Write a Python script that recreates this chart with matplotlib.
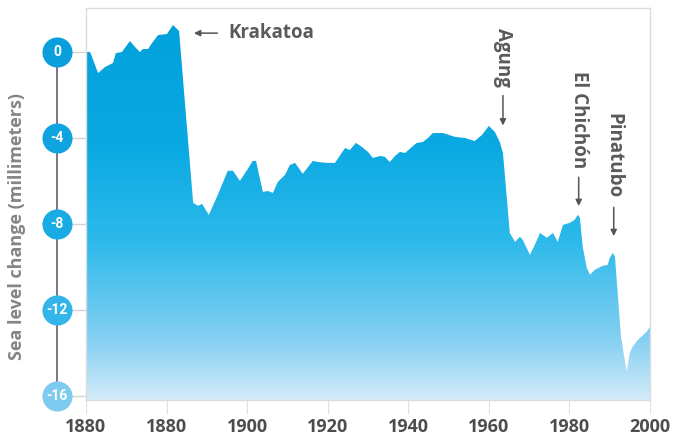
import numpy as np
import matplotlib
matplotlib.use("Agg")
import matplotlib.pyplot as plt
from matplotlib.colors import LinearSegmentedColormap
from matplotlib import transforms

plt.rcParams['font.family'] = ['Open Sans', 'DejaVu Sans']

# Данные: изменение уровня моря (мм)
years = [1860.0, 1861.0, 1861.5, 1863.0, 1864.7, 1866.7, 1867.4, 1868.9, 1870.9, 1872.4,
         1873.4, 1874.1, 1875.4, 1876.4, 1877.9, 1880.1, 1881.6, 1883.1, 1886.6, 1887.8,
         1888.8, 1890.5, 1892.5, 1895.2, 1896.5, 1898.2, 1900.0, 1901.4, 1902.2, 1903.9,
         1905.2, 1906.4, 1907.6, 1909.4, 1910.6, 1911.9, 1913.8, 1916.3, 1917.6, 1919.8,
         1921.8, 1924.3, 1925.5, 1927.0, 1928.5, 1930.0, 1931.2, 1933.0, 1934.2, 1935.4,
         1936.7, 1937.9, 1939.2, 1940.9, 1942.1, 1943.6, 1944.9, 1946.1, 1948.6, 1951.6,
         1954.0, 1956.5, 1958.3, 1960.0, 1961.5, 1962.7, 1963.5, 1965.2, 1966.5, 1967.7,
         1968.4, 1970.2, 1971.4, 1972.7, 1974.4, 1975.9, 1977.1, 1978.4, 1980.1, 1981.3,
         1982.1, 1982.6, 1983.3, 1984.3, 1985.1, 1986.3, 1988.3, 1989.5, 1990.0, 1990.8,
         1991.3, 1992.8, 1994.2, 1995.0, 1995.7, 1997.0, 1999.2, 2000.0]
sea_level = [0.0, 0.0, -0.23, -0.98, -0.70, -0.51, -0.05, 0.0, 0.51, 0.19,
             0.0, 0.14, 0.14, 0.42, 0.79, 0.84, 1.26, 0.98, -7.02, -7.16,
             -7.07, -7.58, -6.74, -5.53, -5.53, -6.00, -5.49, -5.07, -5.07, -6.51,
             -6.47, -6.56, -6.05, -5.72, -5.26, -5.16, -5.67, -5.07, -5.12, -5.16,
             -5.16, -4.47, -4.56, -4.23, -4.42, -4.65, -4.93, -4.84, -4.88, -5.12,
             -4.84, -4.65, -4.70, -4.42, -4.23, -4.19, -4.00, -3.77, -3.77, -3.95,
             -4.00, -4.14, -3.86, -3.44, -3.72, -4.19, -4.70, -8.42, -8.84, -8.60,
             -8.74, -9.44, -8.98, -8.42, -8.65, -8.42, -8.84, -8.05, -7.95, -7.81,
             -7.58, -7.72, -9.07, -10.05, -10.37, -10.14, -9.95, -9.91, -9.58, -9.35,
             -9.53, -13.26, -14.88, -14.00, -13.72, -13.40, -13.02, -12.79]

xtick_pos = [1860, 1880, 1900, 1920, 1940, 1960, 1980, 2000]
xtick_labels = ['1880', '1880', '1900', '1920', '1940', '1960', '1980', '2000']
ytick_pos = [0, -4, -8, -12, -16]
ytick_labels = ['0', '-4', '-8', '-12', '-16']
ytick_colors = ['#0a9fdb', '#0fa4df', '#19abe3', '#34b5e9', '#7fcaef']

# вулканы: название, год стрелки, начало и конец стрелки (мм)
volcanoes = [('Agung', 1963.5, -1.9, -3.55),
             ('El Chichón', 1982.3, -5.7, -7.3),
             ('Pinatubo', 1991.0, -7.1, -8.7)]

ymin, ymax = -16.2, 2.05

fig = plt.figure(figsize=(6.85, 4.40), dpi=100)
ax = fig.add_axes([86 / 685, 40 / 440, 564 / 685, 392 / 440])
ax.set_xlim(1860, 2000)
ax.set_ylim(ymin, ymax)

# Градиентная заливка под кривой
cmap = LinearSegmentedColormap.from_list('sea', [
    (0.0, '#00a0dc'), (0.35, '#0aa9e2'), (0.6, '#2ebaeb'),
    (0.85, '#86d0f2'), (1.0, '#d4ecfa')])
poly = ax.fill_between(years, sea_level, ymin, color='none', lw=0)
grad = np.linspace(0, 1, 256).reshape(-1, 1)
im = ax.imshow(grad, cmap=cmap, aspect='auto', extent=[1860, 2000, ymin, ymax],
               origin='upper', zorder=1)
im.set_clip_path(poly.get_paths()[0], transform=ax.transData)

for s in ax.spines.values():
    s.set_color('#dcdcdc')
    s.set_linewidth(1.0)

ax.set_xticks(xtick_pos)
ax.set_xticklabels(xtick_labels, fontsize=13, fontweight='bold', color='#4d4d4d')
ax.tick_params(axis='x', length=10, color='#e0e0e0', pad=3)
ax.set_yticks([])

# Круглые метки оси Y
trans = transforms.blended_transform_factory(ax.transAxes, ax.transData)
cx = -29 / 564
ax.plot([cx, cx], [ytick_pos[0], ytick_pos[-1]], color='#6d6d7d', lw=1.3,
        transform=trans, clip_on=False, zorder=3)
for yv, lab, c in zip(ytick_pos, ytick_labels, ytick_colors):
    ax.plot([-14 / 564, 0], [yv, yv], color='#d5d5d5', lw=1, transform=trans,
            clip_on=False, zorder=3)
    ax.scatter([cx], [yv], s=470, color=c, transform=trans, clip_on=False,
               zorder=4, linewidths=0)
    ax.text(cx, yv, lab, transform=trans, ha='center', va='center',
            fontsize=10, color='white', fontweight='bold', family='Roboto',
            zorder=5)

fig.text(17 / 685, 1 - 227 / 440, 'Sea level change (millimeters)', rotation=90,
         ha='center', va='center', fontsize=13, fontweight='bold', color='#858585')

# Подписи вулканов
ax.annotate('', xy=(1886.1, 0.88), xytext=(1893.3, 0.88),
            arrowprops=dict(arrowstyle='-|>', color='#555555', lw=1.1,
                            mutation_scale=9), zorder=6)
ax.text(1895.3, 0.88, 'Krakatoa', fontsize=13.5, fontweight='bold',
        color='#5a5a5a', ha='left', va='center', zorder=6)

for name, yr, y0, y1 in volcanoes:
    ax.annotate('', xy=(yr, y1), xytext=(yr, y0),
                arrowprops=dict(arrowstyle='-|>', color='#555555', lw=1.1,
                                mutation_scale=9), zorder=6)
    ax.text(yr, y0 + 0.3, name, rotation=270, fontsize=13.5, fontweight='bold',
            color='#5a5a5a', ha='center', va='bottom', zorder=6)

fig.savefig('out.png', dpi=100, facecolor='white')
